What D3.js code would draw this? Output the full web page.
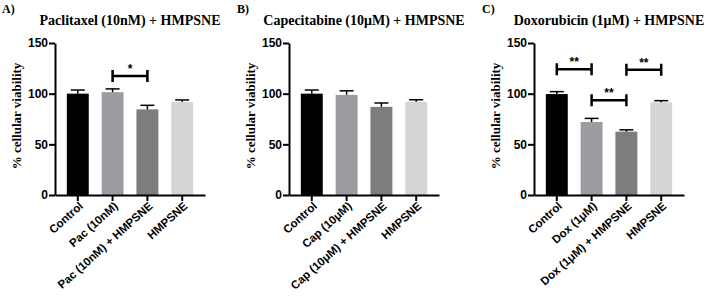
<!DOCTYPE html>
<html>
<head>
<meta charset="utf-8">
<script src="https://cdn.jsdelivr.net/npm/d3@7"></script>
<style>
  body { margin: 0; background: #fff; }
  svg { display: block; }
  .axis path, .axis line { stroke: #000; stroke-width: 2px; }
  .axis text { font-family: "Liberation Sans", Arial, sans-serif; font-weight: bold; font-size: 12px; fill: #000; }
  .axis.x text { font-size: 11.5px; }
</style>
</head>
<body>
<div id="chart"></div>
<script>
// data
var letters = ["A)", "B)", "C)"];
var titles = ["Paclitaxel (10nM) + HMPSNE", "Capecitabine (10\u03bcM) + HMPSNE", "Doxorubicin (1\u03bcM) + HMPSNE"];
var labelsA = ["Control", "Pac (10nM)", "Pac (10nM) + HMPSNE", "HMPSNE"];
var labelsB = ["Control", "Cap (10\u03bcM)", "Cap (10\u03bcM) + HMPSNE", "HMPSNE"];
var labelsC = ["Control", "Dox (1\u03bcM)", "Dox (1\u03bcM) + HMPSNE", "HMPSNE"];
var meansA = [100, 101.5, 84.5, 91.8];
var errA = [3.6, 3.2, 4.0, 2.0];
var meansB = [100, 98.8, 87, 92];
var errB = [3.6, 4.0, 3.8, 2.0];
var meansC = [99.6, 72, 62.5, 91.5];
var errC = [2.4, 3.6, 1.8, 1.6];
// [from bar, to bar, height, stars]
var bracketsA = [[1, 2, 117.5, "*"]];
var bracketsB = [];
var bracketsC = [[0, 1, 124, "**"], [1, 2, 93.5, "**"], [2, 3, 123.5, "**"]];
var yTicks = [0, 50, 100, 150];
var barColors = ["#000000", "#9c9ca0", "#7d7d7d", "#d5d5d5"];

var width = 708, height = 299;
var svg = d3.select("#chart").append("svg")
  .attr("width", width)
  .attr("height", height);

var y = d3.scaleLinear().domain([0, 150]).range([195, 43]);

function drawPanel(left, letterX, letter, title, labels, means, errs, brackets) {
  var g = svg.append("g");
  var x = d3.scaleBand()
    .domain(labels)
    .range([left, left + 150])
    .paddingInner(0.37)
    .paddingOuter(0.34);

  // bars
  g.selectAll("rect.bar")
    .data(means)
    .enter()
    .append("rect")
    .attr("class", "bar")
    .attr("x", function(d, i) { return x(labels[i]); })
    .attr("width", x.bandwidth())
    .attr("y", function(d) { return y(d); })
    .attr("height", function(d) { return y(0) - y(d); })
    .style("fill", function(d, i) { return barColors[i]; });

  // error bars (upper half only)
  means.forEach(function(m, i) {
    var cx = x(labels[i]) + x.bandwidth() / 2;
    g.append("line")
      .attr("x1", cx).attr("x2", cx)
      .attr("y1", y(m)).attr("y2", y(m + errs[i]))
      .style("stroke", "#000").style("stroke-width", 1.5);
    g.append("line")
      .attr("x1", cx - 7).attr("x2", cx + 7)
      .attr("y1", y(m + errs[i])).attr("y2", y(m + errs[i]))
      .style("stroke", "#000").style("stroke-width", 1.5);
  });

  // axes
  g.append("g")
    .attr("class", "axis")
    .attr("transform", "translate(" + left + ",0)")
    .call(d3.axisLeft(y).tickValues(yTicks).tickSize(6).tickSizeOuter(0).tickPadding(1));

  var xAxis = g.append("g")
    .attr("class", "axis x")
    .attr("transform", "translate(0," + y(0) + ")")
    .call(d3.axisBottom(x).tickSize(6).tickSizeOuter(0));
  xAxis.selectAll("text")
    .style("text-anchor", "end")
    .attr("x", 0)
    .attr("y", 0)
    .attr("dy", 0)
    .attr("transform", "translate(6,12) rotate(-42)");

  // significance brackets
  brackets.forEach(function(b) {
    var x1 = x(labels[b[0]]) + x.bandwidth() / 2;
    var x2 = x(labels[b[1]]) + x.bandwidth() / 2;
    var yy = y(b[2]);
    g.append("path")
      .attr("d", "M" + x1 + "," + (yy - 6) + "V" + (yy + 6) + "M" + x1 + "," + yy + "H" + x2 + "M" + x2 + "," + (yy - 6) + "V" + (yy + 6))
      .style("fill", "none").style("stroke", "#000").style("stroke-width", 2.5);
    g.append("text")
      .attr("x", (x1 + x2) / 2)
      .attr("y", yy - 3)
      .style("text-anchor", "middle")
      .style("font-family", "Liberation Sans, Arial, sans-serif")
      .style("font-weight", "bold")
      .style("font-size", "12px")
      .text(b[3]);
  });

  // y label
  g.append("text")
    .attr("transform", "translate(" + (left - 34) + ",116) rotate(-90)")
    .style("text-anchor", "middle")
    .style("font-family", "Liberation Serif, Times New Roman, serif")
    .style("font-weight", "bold")
    .style("font-size", "13px")
    .text("% cellular viability");

  // title
  g.append("text")
    .attr("x", left + 75)
    .attr("y", 25)
    .style("text-anchor", "middle")
    .style("font-family", "Liberation Serif, Times New Roman, serif")
    .style("font-weight", "bold")
    .style("font-size", "14px")
    .text(title);

  // panel letter
  g.append("text")
    .attr("x", letterX)
    .attr("y", 12.5)
    .style("font-family", "Liberation Serif, Times New Roman, serif")
    .style("font-weight", "bold")
    .style("font-size", "12px")
    .text(letter);
}

drawPanel(55, 2, letters[0], titles[0], labelsA, meansA, errA, bracketsA);
drawPanel(289, 237, letters[1], titles[1], labelsB, meansB, errB, bracketsB);
drawPanel(534, 482, letters[2], titles[2], labelsC, meansC, errC, bracketsC);
</script>
</body>
</html>
